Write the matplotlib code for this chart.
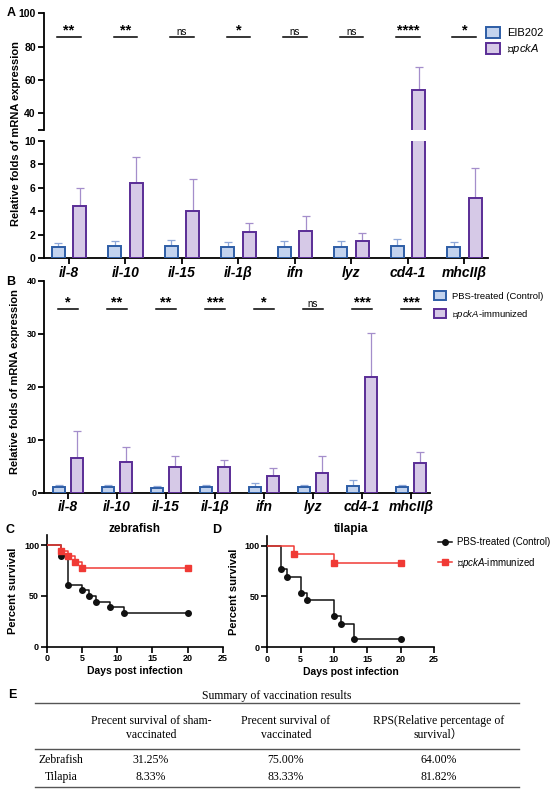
import matplotlib
matplotlib.use('Agg')
import matplotlib.pyplot as plt
import numpy as np
from matplotlib.lines import Line2D
from matplotlib.patches import Patch

plt.rcParams['font.family'] = ['Liberation Sans', 'DejaVu Sans']
plt.rcParams['mathtext.fontset'] = 'custom'
plt.rcParams['mathtext.it'] = 'Liberation Sans:italic'
plt.rcParams['mathtext.rm'] = 'DejaVu Sans'

genes = ['il-8', 'il-10', 'il-15', 'il-1β', 'ifn', 'lyz', 'cd4-1', 'mhcIIβ']

# panel A: EIB202 vs pckA
a_ctrl = [1.0, 1.02, 1.03, 1.0, 1.0, 1.0, 1.08, 1.0]
a_ctrl_err = [0.28, 0.48, 0.52, 0.35, 0.46, 0.46, 0.57, 0.36]
a_mut = [4.45, 6.4, 4.07, 2.2, 2.33, 1.5, 53.7, 5.14]
a_mut_err = [1.52, 2.2, 2.67, 0.85, 1.24, 0.64, 14.2, 2.54]
a_sig = ['**', '**', 'ns', '*', 'ns', 'ns', '****', '*']

# panel B: PBS vs immunized
b_ctrl = [1.0, 1.0, 0.95, 1.0, 1.15, 1.0, 1.26, 1.0]
b_ctrl_err = [0.45, 0.45, 0.3, 0.45, 0.7, 0.45, 1.2, 0.4]
b_mut = [6.6, 5.75, 4.9, 4.85, 3.2, 3.8, 21.9, 5.7]
b_mut_err = [5.0, 2.85, 2.1, 1.25, 1.45, 3.2, 8.2, 2.0]
b_sig = ['*', '**', '**', '***', '*', 'ns', '***', '***']

# panels C, D: survival
zf_ctrl_days = [0, 2, 3, 5, 6, 7, 9, 11, 20]
zf_ctrl_surv = [100, 88.9, 61.1, 55.6, 50.0, 44.4, 38.9, 33.3, 33.3]
zf_vac_days = [0, 2, 3, 4, 5, 20]
zf_vac_surv = [100, 94.4, 88.9, 83.3, 77.8, 77.8]
tl_ctrl_days = [0, 2, 3, 5, 6, 10, 11, 13, 20]
tl_ctrl_surv = [100, 76.9, 69.2, 53.8, 46.2, 30.8, 23.1, 7.7, 7.7]
tl_vac_days = [0, 4, 10, 20]
tl_vac_surv = [100, 91.7, 83.3, 83.3]

# panel E: table
tbl_cols = ['Precent survival of sham-\nvaccinated', 'Precent survival of\nvaccinated',
            'RPS(Relative percentage of\nsurvival）']
tbl_rows = ['Zebrafish', 'Tilapia']
tbl_vals = [['31.25%', '75.00%', '64.00%'], ['8.33%', '83.33%', '81.82%']]

blue_fill, blue_edge, blue_err = '#c3d3ee', '#2d5da6', '#8ea7d8'
purp_fill, purp_edge, purp_err = '#d6c9e7', '#5a2d96', '#a48ecb'

W, H = 550, 792
fig = plt.figure(figsize=(W / 100, H / 100), dpi=100)


def px_axes(x0, y0, x1, y1):
    return fig.add_axes([x0 / W, 1 - y1 / H, (x1 - x0) / W, (y1 - y0) / H])


def style(ax, lw=1.3):
    for s in ['top', 'right']:
        ax.spines[s].set_visible(False)
    for s in ['left', 'bottom']:
        ax.spines[s].set_linewidth(lw)
    ax.tick_params(width=lw, length=4, pad=1.5)


def draw_bars(ax, ctrl, ctrl_err, mut, mut_err, off, w):
    x = np.arange(len(genes))
    z = np.zeros(len(genes))
    ax.errorbar(x - off, ctrl, yerr=[z, ctrl_err], fmt='none', ecolor=blue_err,
                elinewidth=0.9, capsize=3, capthick=0.9, zorder=2)
    ax.errorbar(x + off, mut, yerr=[z, mut_err], fmt='none', ecolor=purp_err,
                elinewidth=0.9, capsize=3, capthick=0.9, zorder=2)
    ax.bar(x - off, ctrl, w, color=blue_fill, edgecolor=blue_edge, lw=1.4, zorder=3)
    ax.bar(x + off, mut, w, color=purp_fill, edgecolor=purp_edge, lw=1.4, zorder=3)


def draw_sig(ax, sig, yline, off):
    for i, s in enumerate(sig):
        ax.plot([i - off - 0.02, i + off + 0.02], [yline, yline], color='black', lw=1.1)
        if s == 'ns':
            ax.text(i, yline, 'ns', ha='center', va='bottom', fontsize=7)
        else:
            ax.text(i, yline, s, ha='center', va='bottom', fontsize=10.5, fontweight='bold')


# ---- panel A (broken axis)
offA, wA = 0.19, 0.23
axA1 = px_axes(43.5, 13.3, 487.5, 130)
axA2 = px_axes(43.5, 141, 487.5, 258.3)
for ax in (axA1, axA2):
    draw_bars(ax, a_ctrl, a_ctrl_err, a_mut, a_mut_err, offA, wA)
    style(ax)
    ax.set_xlim(-0.45, 7.41)
axA1.set_ylim(30, 100)
axA1.spines['bottom'].set_visible(False)
axA1.set_xticks([])
axA1.set_yticks([30, 40, 60, 80, 100])
axA1.set_yticklabels(['', '40', '60', '80', '100'])
axA2.set_ylim(0, 10)
axA2.set_yticks([0, 2, 4, 6, 8, 10])
axA2.set_xticks(np.arange(len(genes)))
axA2.set_xticklabels(genes, fontsize=10, fontweight='bold', fontstyle='italic')
for ax in (axA1, axA2):
    for t in ax.get_yticklabels():
        t.set_fontweight('bold')
        t.set_fontsize(7.5)
draw_sig(axA1, a_sig, 85.8, offA)
fig.text(16 / W, 1 - 133 / H, 'Relative folds of mRNA expression', rotation=90,
         ha='center', va='center', fontsize=8, fontweight='bold')
fig.text(11.5 / W, 1 - 13 / H, 'A', ha='center', va='center', fontsize=9, fontweight='bold')
legA = [Patch(facecolor=blue_fill, edgecolor=blue_edge, lw=1.4, label='EIB202'),
        Patch(facecolor=purp_fill, edgecolor=purp_edge, lw=1.4, label='△$\\it{pckA}$')]
axA1.legend(handles=legA, loc='upper left', bbox_to_anchor=(486 / W, 1 - 27 / H),
            bbox_transform=fig.transFigure, frameon=False, fontsize=8, borderpad=0,
            borderaxespad=0, handlelength=1.3, handleheight=1.1, handletextpad=0.6,
            labelspacing=0.35)

# ---- panel B
offB, wB = 0.19, 0.245
axB = px_axes(44, 281, 429.7, 492.7)
draw_bars(axB, b_ctrl, b_ctrl_err, b_mut, b_mut_err, offB, wB)
style(axB)
axB.set_xlim(-0.49, 7.38)
axB.set_ylim(0, 40)
axB.set_yticks([0, 10, 20, 30, 40])
axB.set_xticks(np.arange(len(genes)))
axB.set_xticklabels(genes, fontsize=10, fontweight='bold', fontstyle='italic')
for t in axB.get_yticklabels():
    t.set_fontweight('bold')
    t.set_fontsize(6.5)
draw_sig(axB, b_sig, 34.7, offB)
fig.text(15 / W, 1 - 382 / H, 'Relative folds of mRNA expression', rotation=90,
         ha='center', va='center', fontsize=8, fontweight='bold')
fig.text(11 / W, 1 - 282 / H, 'B', ha='center', va='center', fontsize=9, fontweight='bold')
legB = [Patch(facecolor=blue_fill, edgecolor=blue_edge, lw=1.4, label='PBS-treated (Control)'),
        Patch(facecolor=purp_fill, edgecolor=purp_edge, lw=1.4, label='△$\\it{pckA}$-immunized')]
axB.legend(handles=legB, loc='upper left', bbox_to_anchor=(434 / W, 1 - 291 / H),
           bbox_transform=fig.transFigure, frameon=False, fontsize=6.8, borderpad=0,
           borderaxespad=0, handlelength=1.3, handleheight=1.1, handletextpad=0.6,
           labelspacing=0.75)


# ---- panels C, D
def survival(ax, cd, cs, vd, vs, title):
    ax.step(cd, cs, where='post', color='#111111', lw=1.1, marker='o', ms=4,
            markevery=slice(1, None), zorder=3)
    ax.step(vd, vs, where='post', color='#f03a35', lw=1.1, marker='s', ms=3.8,
            markevery=slice(1, None), zorder=4)
    style(ax, 1.2)
    ax.set_xlim(0, 25)
    ax.set_ylim(0, 110)
    ax.set_xticks([0, 5, 10, 15, 20, 25])
    ax.set_yticks([0, 50, 100])
    for t in ax.get_xticklabels() + ax.get_yticklabels():
        t.set_fontweight('bold')
        t.set_fontsize(6.5)
    ax.set_xlabel('Days post infection', fontsize=7.5, fontweight='bold', labelpad=2)
    ax.set_ylabel('Percent survival', fontsize=8, fontweight='bold', labelpad=4)
    ax.set_title(title, fontsize=8.5, fontweight='bold', pad=0)


axC = px_axes(46.7, 535, 223, 646.7)
survival(axC, zf_ctrl_days, zf_ctrl_surv, zf_vac_days, zf_vac_surv, 'zebrafish')
axD = px_axes(267.3, 535.5, 434, 647.3)
survival(axD, tl_ctrl_days, tl_ctrl_surv, tl_vac_days, tl_vac_surv, 'tilapia')
fig.text(10 / W, 1 - 530 / H, 'C', ha='center', va='center', fontsize=9, fontweight='bold')
fig.text(217 / W, 1 - 530 / H, 'D', ha='center', va='center', fontsize=9, fontweight='bold')
legS = [Line2D([], [], color='#111111', lw=1.1, marker='o', ms=4, label='PBS-treated (Control)'),
        Line2D([], [], color='#f03a35', lw=1.1, marker='s', ms=3.8, label='△$\\it{pckA}$-immunized')]
axD.legend(handles=legS, loc='upper left', bbox_to_anchor=(438 / W, 1 - 537 / H),
           bbox_transform=fig.transFigure, frameon=False, fontsize=7, borderpad=0,
           borderaxespad=0, handlelength=1.4, handletextpad=0.6, labelspacing=0.9)

# ---- panel E table
serif = ['Liberation Serif', 'Noto Sans CJK SC']
fig.text(12 / W, 1 - 695 / H, 'E', ha='center', va='center', fontsize=9, fontweight='bold')
fig.text(277 / W, 1 - 696.5 / H, 'Summary of vaccination results', ha='center', va='center',
         fontsize=8.5, family=serif)
for yy in [703.3, 749, 786.7]:
    fig.add_artist(Line2D([35 / W, 519 / W], [1 - yy / H, 1 - yy / H], color='#555555', lw=1.0))
col_x = [150.8, 285.9, 438.4]
for cx, c in zip(col_x, tbl_cols):
    fig.text(cx / W, 1 - 728 / H, c, ha='center', va='center', fontsize=8.5,
             family=serif, linespacing=1.3)
row_y = [760, 777.3]
for ry, rname, vals in zip(row_y, tbl_rows, tbl_vals):
    fig.text(61.3 / W, 1 - ry / H, rname, ha='center', va='center', fontsize=8.5, family=serif)
    for cx, v in zip(col_x, vals):
        fig.text(cx / W, 1 - ry / H, v, ha='center', va='center', fontsize=8.5, family=serif)

fig.savefig('out.png', dpi=100)
